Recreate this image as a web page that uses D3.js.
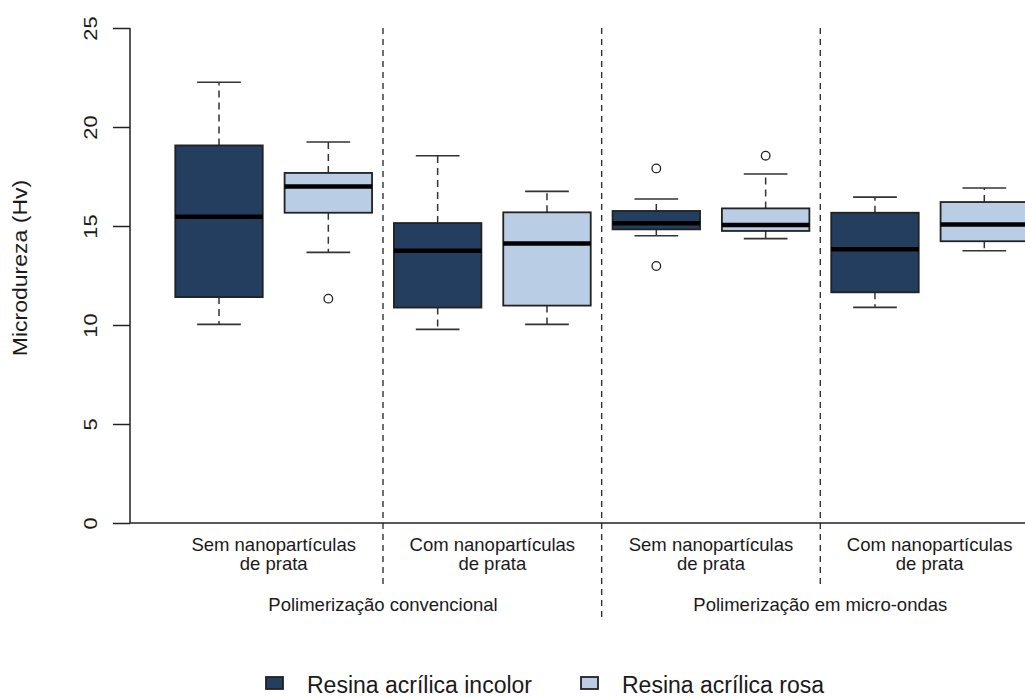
<!DOCTYPE html>
<html>
<head>
<meta charset="utf-8">
<script src="https://cdn.jsdelivr.net/npm/d3@7"></script>
<style>
  html, body { margin: 0; padding: 0; background: #fff; }
  svg { display: block; font-family: Arial, "Liberation Sans", sans-serif; }
</style>
</head>
<body>
<svg id="chart" width="1025" height="697"></svg>
<script>
// Sub-groups (with / without silver nanoparticles) and polymerisation methods
const subgroups = [["Sem nanopartículas", "de prata"], ["Com nanopartículas", "de prata"]];
const methods = ["Polimerização convencional", "Polimerização em micro-ondas"];
const series = ["Resina acrílica incolor", "Resina acrílica rosa"];
const colors = ["#243e5f", "#b9cde5"];
const yTicks = [0, 5, 10, 15, 20, 25];

// Five-number summaries: [lower whisker, Q1, median, Q3, upper whisker]
// order: conv/sem, conv/com, micro/sem, micro/com
const incolorStats = [
  [10.03, 11.41, 15.47, 19.07, 22.26],
  [9.78, 10.88, 13.75, 15.15, 18.55],
  [14.51, 14.83, 15.14, 15.76, 16.36],
  [10.89, 11.65, 13.82, 15.67, 16.46]
];
const rosaStats = [
  [13.67, 15.67, 16.99, 17.68, 19.24],
  [10.03, 10.98, 14.12, 15.69, 16.75],
  [14.36, 14.75, 15.05, 15.89, 17.63],
  [13.75, 14.23, 15.08, 16.21, 16.92]
];
const incolorOutliers = [[], [], [17.91, 12.98], []];
const rosaOutliers = [[11.33], [], [18.55], []];

// Interleave into 8 boxes at positions 1..8
const boxes = [];
for (let g = 0; g < 4; g++) {
  boxes.push({ pos: 2 * g + 1, s: 0, st: incolorStats[g], out: incolorOutliers[g] });
  boxes.push({ pos: 2 * g + 2, s: 1, st: rosaStats[g], out: rosaOutliers[g] });
}

const svg = d3.select("#chart");
const x = d3.scaleLinear().domain([1, 8]).range([219, 984.3]);
const y = d3.scaleLinear().domain([0, 25]).range([523, 28]);
const step = x(2) - x(1);
const bw = step * 0.8;
const ink = "#222";

// Dashed separators between groups
const seps = [
  { p: 2.5, bottom: 585 },
  { p: 4.5, bottom: 622 },
  { p: 6.5, bottom: 585 }
];
svg.selectAll("line.sep").data(seps).join("line")
  .attr("x1", d => x(d.p)).attr("x2", d => x(d.p))
  .attr("y1", y(25)).attr("y2", d => d.bottom)
  .attr("stroke", "#333").attr("stroke-width", 1.4)
  .attr("stroke-dasharray", "6,5");

// Bottom axis line
svg.append("line")
  .attr("x1", 130).attr("x2", 1025)
  .attr("y1", y(0)).attr("y2", y(0))
  .attr("stroke", ink).attr("stroke-width", 1.5);

// Y axis
const yAxis = d3.axisLeft(y).tickValues(yTicks).tickSize(17).tickFormat(d3.format("d"));
const yg = svg.append("g").attr("transform", "translate(130,0)").call(yAxis);
yg.select(".domain").attr("stroke", ink).attr("stroke-width", 1.5)
  .attr("d", `M0,${y(0)}V${y(25)}`);
yg.selectAll(".tick line").attr("stroke", ink).attr("stroke-width", 1.5);
yg.selectAll(".tick text")
  .attr("x", 0).attr("y", 0).attr("dy", null)
  .attr("transform", "translate(-38,0) rotate(-90) scale(1.15,1)")
  .attr("fill", "#1a1a1a")
  .attr("font-size", 19)
  .attr("font-family", "Arial, 'Liberation Sans', sans-serif")
  .attr("text-anchor", "middle")
  .attr("dominant-baseline", "middle");

// Y axis title
svg.append("text")
  .attr("transform", `translate(22,${268}) rotate(-90) scale(1.15,1)`)
  .attr("text-anchor", "middle").attr("dominant-baseline", "middle")
  .attr("font-size", 20).attr("fill", "#1a1a1a")
  .text("Microdureza (Hv)");

// Boxplots
const bg = svg.selectAll("g.box").data(boxes).join("g").attr("class", "box");

// whiskers (dashed)
bg.append("line")
  .attr("x1", d => x(d.pos)).attr("x2", d => x(d.pos))
  .attr("y1", d => y(d.st[3])).attr("y2", d => y(d.st[4]))
  .attr("stroke", "#333").attr("stroke-width", 1.5).attr("stroke-dasharray", "7,5");
bg.append("line")
  .attr("x1", d => x(d.pos)).attr("x2", d => x(d.pos))
  .attr("y1", d => y(d.st[1])).attr("y2", d => y(d.st[0]))
  .attr("stroke", "#333").attr("stroke-width", 1.5).attr("stroke-dasharray", "7,5");
// caps
[0, 4].forEach(k => {
  bg.append("line")
    .attr("x1", d => x(d.pos) - bw / 4).attr("x2", d => x(d.pos) + bw / 4)
    .attr("y1", d => y(d.st[k])).attr("y2", d => y(d.st[k]))
    .attr("stroke", "#333").attr("stroke-width", 1.6);
});
// box
bg.append("rect")
  .attr("x", d => x(d.pos) - bw / 2).attr("width", bw)
  .attr("y", d => y(d.st[3])).attr("height", d => y(d.st[1]) - y(d.st[3]))
  .attr("fill", d => colors[d.s]).attr("stroke", ink).attr("stroke-width", 1.8);
// median
bg.append("line")
  .attr("x1", d => x(d.pos) - bw / 2).attr("x2", d => x(d.pos) + bw / 2)
  .attr("y1", d => y(d.st[2])).attr("y2", d => y(d.st[2]))
  .attr("stroke", "#000").attr("stroke-width", 4.5);
// outliers
bg.selectAll("circle").data(d => d.out.map(v => ({ pos: d.pos, v }))).join("circle")
  .attr("cx", d => x(d.pos)).attr("cy", d => y(d.v)).attr("r", 4.3)
  .attr("fill", "none").attr("stroke", ink).attr("stroke-width", 1.3);

// Sub-group labels
const labelFont = 18.5;
for (let g = 0; g < 4; g++) {
  const cx = x(2 * g + 1.5);
  const t = svg.append("text").attr("text-anchor", "middle")
    .attr("font-size", labelFont).attr("fill", "#1a1a1a");
  const lines = subgroups[g % 2];
  t.append("tspan").attr("x", cx).attr("y", 551).text(lines[0]);
  t.append("tspan").attr("x", cx).attr("y", 570).text(lines[1]);
}
// Method labels, centred on the inner separators
methods.forEach((m, i) => {
  svg.append("text").attr("text-anchor", "middle")
    .attr("x", x(4 * i + 2.5)).attr("y", 610.5)
    .attr("font-size", labelFont).attr("fill", "#1a1a1a")
    .text(m);
});

// Legend
const legendX = [266, 581];
const lg = svg.selectAll("g.leg").data(series).join("g").attr("class", "leg");
lg.append("rect")
  .attr("x", (d, i) => legendX[i]).attr("y", 677)
  .attr("width", 17).attr("height", 12)
  .attr("fill", (d, i) => colors[i]).attr("stroke", ink).attr("stroke-width", 1.8);
lg.append("text")
  .attr("x", (d, i) => legendX[i] + 41).attr("y", 693)
  .attr("font-size", 23).attr("fill", "#1a1a1a")
  .text(d => d);
</script>
</body>
</html>
